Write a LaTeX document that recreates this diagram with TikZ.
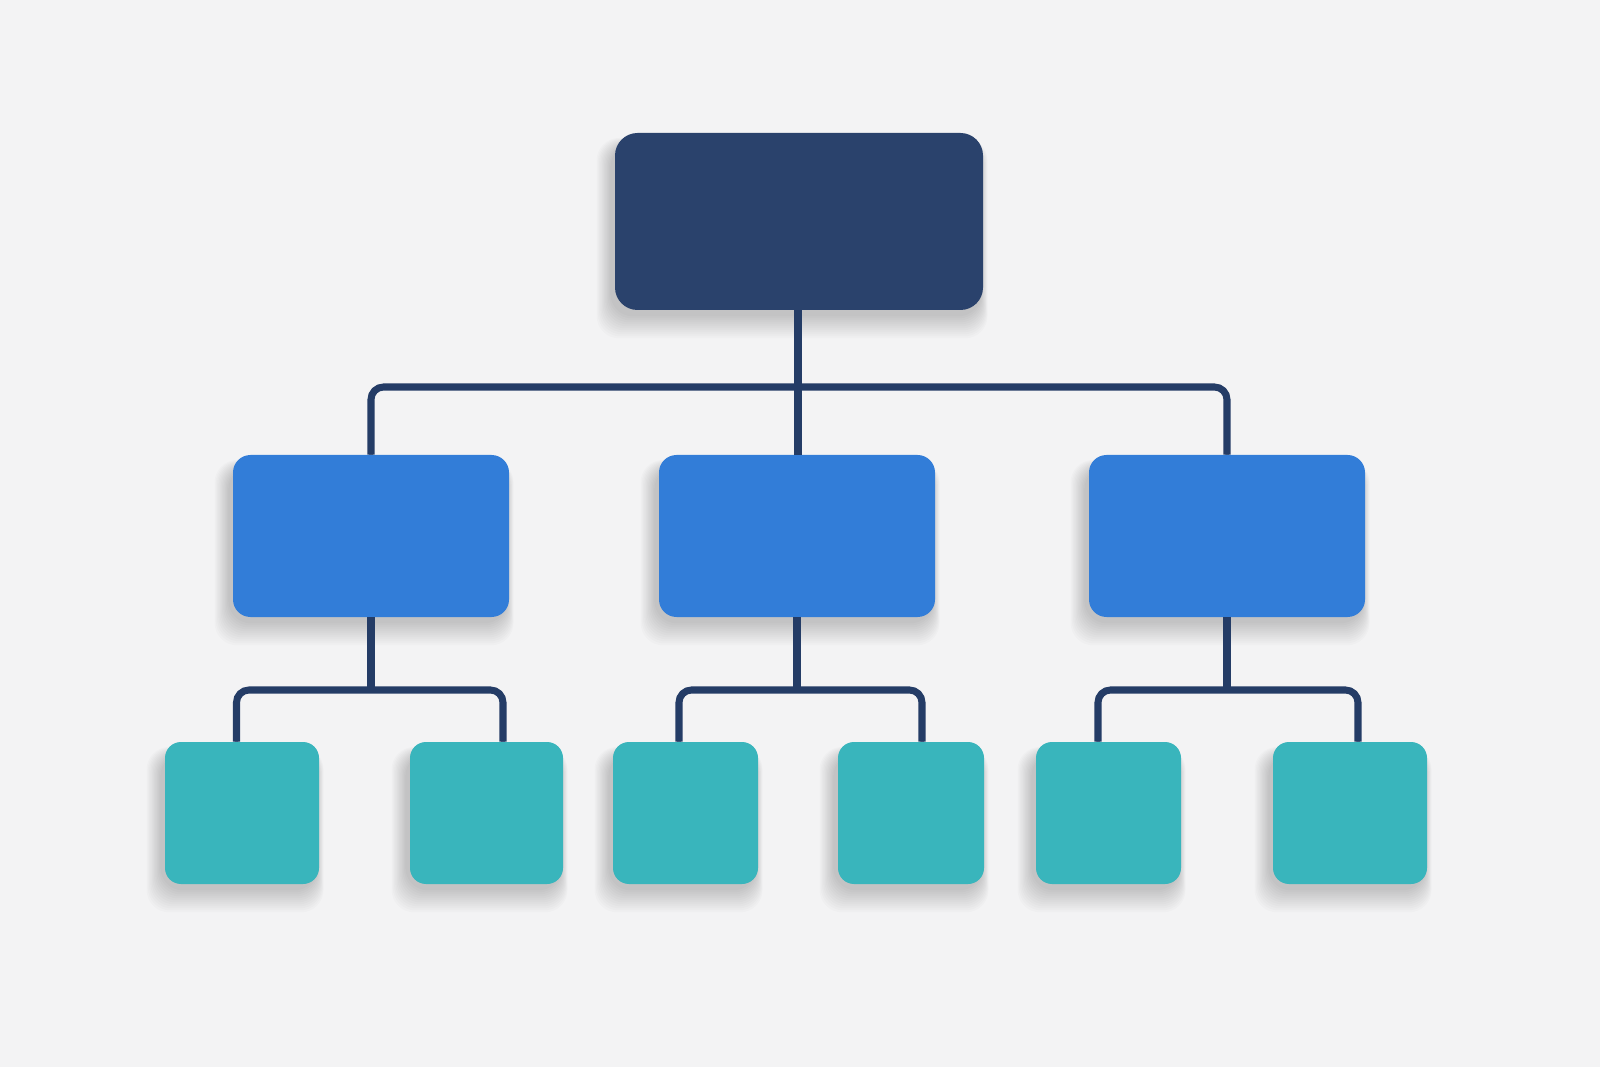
\documentclass[tikz,border=0pt]{standalone}
\usepackage{tikz}
\usetikzlibrary{calc}
\pgfdeclarelayer{back}
\pgfsetlayers{back,main}
\definecolor{oc_bg}{RGB}{243, 243, 244}
\definecolor{oc_navy}{RGB}{42, 66, 108}
\definecolor{oc_blue}{RGB}{50, 125, 216}
\definecolor{oc_teal}{RGB}{57, 181, 188}
\definecolor{oc_wire}{RGB}{36, 60, 102}
\tikzstyle{topn}=[rectangle,rounded corners=0.45cm,fill=oc_navy,
  minimum width=7.36cm,minimum height=3.54cm]
\tikzstyle{midn}=[rectangle,rounded corners=0.35cm,fill=oc_blue,
  minimum width=5.52cm,minimum height=3.24cm]
\tikzstyle{leafn}=[rectangle,rounded corners=0.32cm,fill=oc_teal,
  minimum height=2.84cm]
\tikzstyle{wire}=[draw=oc_wire,line width=1pt,double=oc_wire,double distance=2pt,
  rounded corners=0.25cm]
\tikzstyle{haze}=[fill=black,opacity=0.014,rounded corners=0.45cm]
\tikzstyle{none}=[inner sep=0pt]

\begin{document}
\begin{tikzpicture}
		\node [style=topn] (0) at (15.98, -4.43) {};
		\node [style=midn] (1) at (7.42, -10.72) {};
		\node [style=midn] (2) at (15.94, -10.72) {};
		\node [style=midn] (3) at (24.54, -10.72) {};
		\node [style=leafn, minimum width=3.08cm] (4) at (4.84, -16.26) {};
		\node [style=leafn, minimum width=3.06cm] (5) at (9.73, -16.26) {};
		\node [style=leafn, minimum width=2.9cm] (6) at (13.71, -16.26) {};
		\node [style=leafn, minimum width=2.92cm] (7) at (18.22, -16.26) {};
		\node [style=leafn, minimum width=2.9cm] (8) at (22.17, -16.26) {};
		\node [style=leafn, minimum width=3.08cm] (9) at (27, -16.26) {};
		\node [style=none] (10) at (15.96, -7.74) {};
		\node [style=none] (11) at (4.73, -13.8) {};
		\node [style=none] (12) at (10.06, -13.8) {};
		\node [style=none] (13) at (13.58, -13.8) {};
		\node [style=none] (14) at (18.44, -13.8) {};
		\node [style=none] (15) at (21.96, -13.8) {};
		\node [style=none] (16) at (27.16, -13.8) {};
		\draw [style=wire] (0.south -| 10.center) -- (2.north -| 10.center);
		\draw [style=wire] (1.north) |- (10.center) -| (3.north);
		\draw [style=wire] (1.south) -- (1.south |- 11.center);
		\draw [style=wire] (2.south) -- (2.south |- 13.center);
		\draw [style=wire] (3.south) -- (3.south |- 15.center);
		\draw [style=wire] (4.north -| 11.center) -- (11.center) -- (12.center) -- (5.north -| 12.center);
		\draw [style=wire] (6.north -| 13.center) -- (13.center) -- (14.center) -- (7.north -| 14.center);
		\draw [style=wire] (8.north -| 15.center) -- (15.center) -- (16.center) -- (9.north -| 16.center);
		% soft shadows under the boxes
		\begin{pgfonlayer}{back}
		\fill [oc_bg] (0, 0) rectangle (32, -21.34);
		\foreach \n in {0,...,9}
			\foreach \s in {1,...,12}
				\fill [style=haze] ($(\n.south west)+(-0.06-0.025*\s, -0.08-0.04*\s)$)
					rectangle ($(\n.north east)+(-0.06+0.012*\s, -0.25+0.012*\s)$);
		\end{pgfonlayer}
\end{tikzpicture}
\end{document}
